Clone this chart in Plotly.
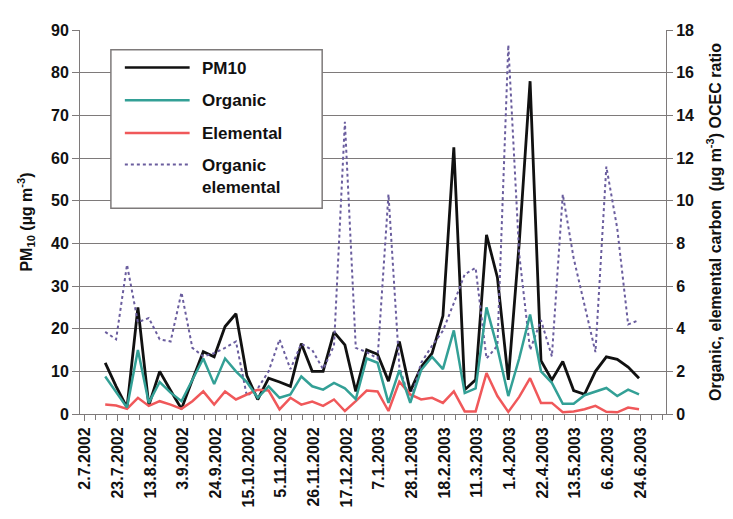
import pandas as pd
import plotly.graph_objects as go

# Weekly sampling dates
sample_dates = pd.date_range("2002-07-15", periods=50, freq="7D")

# PM10 mass concentration (µg m-3), left axis
pm10 = [12, 6.5, 1.5, 25, 2, 10, 5.5, 1.2, 8, 14.6,
        13.4, 20.5, 23.5, 9, 3.4, 8.4, 7.5, 6.5, 16.5, 10,
        10, 19.2, 16.2, 5.3, 15, 14, 7.7, 17, 5.3, 11,
        14.2, 23, 62.5, 5.7, 8, 42, 32, 8, 40, 78,
        12.5, 8, 12.3, 5.5, 4.6, 10, 13.4, 12.8, 11, 8.4]

# Organic carbon (µg m-3), right axis
organic = [1.76, 1.0, 0.30, 3.0, 0.52, 1.5, 1.0, 0.6, 1.6, 2.6,
           1.4, 2.6, 2.0, 1.5, 0.76, 1.3, 0.76, 0.92, 1.76, 1.3,
           1.14, 1.46, 1.2, 0.7, 2.6, 2.4, 0.52, 2.06, 0.52, 2.06,
           2.68, 2.1, 3.92, 0.98, 1.2, 5.0, 3.1, 0.84, 2.6, 4.66,
           2.0, 1.46, 0.48, 0.48, 0.88, 1.06, 1.22, 0.84, 1.14, 0.92]

# Elemental carbon (µg m-3), right axis
elemental = [0.44, 0.40, 0.24, 0.76, 0.38, 0.60, 0.44, 0.24, 0.60, 1.06,
             0.44, 1.06, 0.68, 0.92, 1.14, 1.10, 0.22, 0.76, 0.44, 0.58,
             0.38, 0.68, 0.14, 0.60, 1.10, 1.06, 0.14, 1.52, 0.92, 0.68,
             0.76, 0.52, 1.06, 0.12, 0.12, 1.92, 0.84, 0.10, 0.80, 1.68,
             0.52, 0.52, 0.08, 0.12, 0.22, 0.38, 0.10, 0.08, 0.30, 0.22]

# OC:EC ratio, right axis
ratio = [3.85, 3.5, 7.0, 4.3, 4.5, 3.5, 3.4, 5.7, 3.1, 2.7,
         2.85, 3.1, 3.4, 0.85, 1.2, 2.0, 3.5, 2.1, 3.3, 3.0,
         2.1, 3.2, 13.7, 3.1, 2.9, 2.6, 10.3, 2.2, 0.6, 2.4,
         3.2, 3.9, 5.2, 6.55, 6.85, 2.6, 3.2, 17.3, 7.5, 3.0,
         4.4, 2.7, 10.3, 7.3, 5.1, 2.9, 11.6, 8.7, 4.2, 4.4]

# Date axis labels every three weeks
label_dates = pd.date_range("2002-07-02", periods=18, freq="21D")
label_text = ["2.7.2002", "23.7.2002", "13.8.2002", "3.9.2002", "24.9.2002",
              "15.10.2002", "5.11.2002", "26.11.2002", "17.12.2002", "7.1.2003",
              "28.1.2003", "18.2.2003", "11.3.2003", "1.4.2003", "22.4.2003",
              "13.5.2003", "6.6.2003", "24.6.2003"]

series_names = ["PM10", "Organic", "Elemental", "Organic<br>elemental"]

C_PM = "#111111"
C_OC = "#33a096"
C_EC = "#f0585a"
C_RATIO = "#6a5d9e"
GRID = "#7e7a7a"
FONT = "Liberation Sans"

fig = go.Figure()
fig.add_trace(go.Scatter(x=sample_dates, y=ratio, yaxis="y2", mode="lines",
                         line=dict(color=C_RATIO, width=2, dash="3px,3px"),
                         name="Organic elemental", showlegend=False))
fig.add_trace(go.Scatter(x=sample_dates, y=elemental, yaxis="y2", mode="lines",
                         line=dict(color=C_EC, width=2.5),
                         name="Elemental", showlegend=False))
fig.add_trace(go.Scatter(x=sample_dates, y=organic, yaxis="y2", mode="lines",
                         line=dict(color=C_OC, width=2.5),
                         name="Organic", showlegend=False))
fig.add_trace(go.Scatter(x=sample_dates, y=pm10, mode="lines",
                         line=dict(color=C_PM, width=2.8),
                         name="PM10", showlegend=False))

tick_font = dict(family=FONT, size=16, color="#111", weight="bold")

fig.update_layout(
    width=733, height=519,
    margin=dict(l=80, r=65, t=30, b=101),
    paper_bgcolor="white", plot_bgcolor="white",
    font=dict(family=FONT, size=16, color="#111"),
    xaxis=dict(
        type="date",
        range=["2002-06-28 19:00", "2003-07-10 08:00"],
        tickmode="array", tickvals=label_dates, ticktext=label_text,
        tickangle=-90, tickfont=tick_font,
        ticks="outside", ticklen=6, tickcolor=GRID,
        minor=dict(ticks="outside", ticklen=5, tickcolor=GRID,
                   tick0="2002-07-02", dtick=7 * 86400000),
        showline=True, linecolor=GRID, linewidth=1,
        showgrid=False, zeroline=False,
    ),
    yaxis=dict(
        range=[0, 90], dtick=10, tickfont=tick_font,
        ticks="outside", ticklen=7, tickcolor=GRID,
        showline=True, linecolor=GRID, linewidth=1,
        showgrid=True, gridcolor=GRID, gridwidth=1, zeroline=False,
        title=dict(text="PM<sub>10</sub> (µg m<sup>-3</sup>)",
                   font=dict(family=FONT, size=16, color="#111", weight="bold"),
                   standoff=14),
    ),
    yaxis2=dict(
        range=[0, 18], dtick=2, overlaying="y", side="right",
        tickfont=tick_font,
        ticks="outside", ticklen=6, tickcolor=GRID,
        showline=True, linecolor=GRID, linewidth=1,
        showgrid=False, zeroline=False,
        title=dict(text="Organic, elemental carbon  (µg m<sup>-3</sup>) OCEC ratio",
                   font=dict(family=FONT, size=16, color="#111", weight="bold"),
                   standoff=16),
    ),
)

# Legend box drawn in plot-area pixel units converted to paper coordinates
PLOT_L, PLOT_W, PLOT_B, PLOT_H = 80, 588, 418, 388


def px(xp):
    return (xp - PLOT_L) / PLOT_W


def py(yp):
    return (PLOT_B - yp) / PLOT_H


fig.add_shape(type="rect", xref="paper", yref="paper",
              x0=px(111), x1=px(323), y0=py(210), y1=py(50),
              line=dict(color=GRID, width=1.5), fillcolor="white", layer="above")

legend_styles = [dict(color=C_PM, width=2.5),
                 dict(color=C_OC, width=2.5),
                 dict(color=C_EC, width=2.5),
                 dict(color=C_RATIO, width=2, dash="3px,3px")]
legend_rows = [68, 101, 134, 166]
for name, style, yrow in zip(series_names, legend_styles, legend_rows):
    fig.add_shape(type="line", xref="paper", yref="paper",
                  x0=px(125), x1=px(190), y0=py(yrow), y1=py(yrow),
                  line=style, layer="above")
    fig.add_annotation(xref="paper", yref="paper", x=px(200), y=py(yrow - 11),
                       xanchor="left", yanchor="top", align="left",
                       text=name, showarrow=False,
                       font=dict(family=FONT, size=17, color="#111", weight="bold"))

fig.write_html("out.html")
